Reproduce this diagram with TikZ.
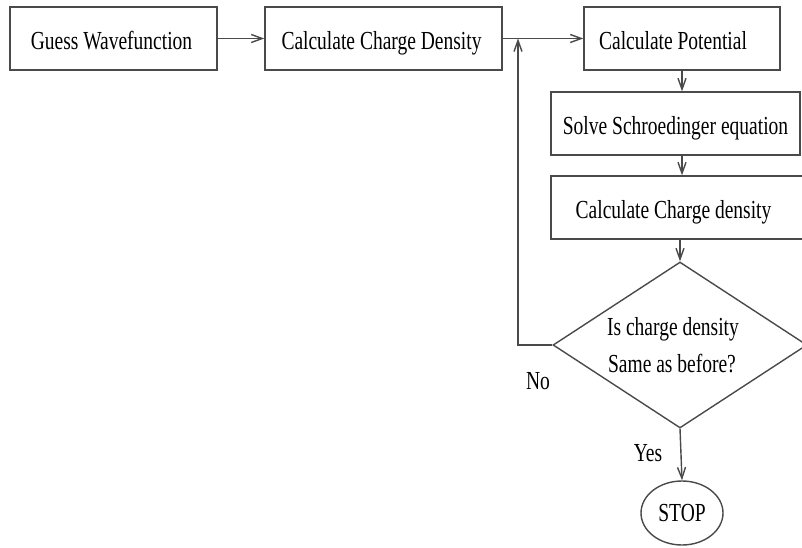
\documentclass[tikz,border=0pt]{standalone}
\usepackage{fontspec}
\setmainfont{Liberation Serif}[FakeStretch=0.75]
\usetikzlibrary{arrows.meta,shapes.geometric}
\definecolor{lc}{HTML}{4A4A4A}
\begin{document}
\begin{tikzpicture}[x=1pt,y=-1pt,
  every node/.style={font=\fontsize{26}{37}\selectfont, text=black},
  box/.style={draw=lc, line width=1.4pt, rectangle, minimum height=63pt, inner sep=0pt, text height=22pt, text depth=0pt},
  arr/.style={draw=lc, line width=1.4pt, -{Straight Barb[length=11pt,width=8pt]}},
  ln/.style={draw=lc, line width=1.4pt}
]
\useasboundingbox (0,0) rectangle (802,548);
\fill[white] (0,0) rectangle (802,548);

\node[box, minimum width=207pt] (b1) at (113.5,38.5) {Guess Wavefunction\hspace*{4pt}};
\node[box, minimum width=237pt] (b2) at (383.5,38.5) {Calculate Charge Density\hspace*{4pt}};
\node[box, minimum width=196pt] (b3) at (682,38.5) {Calculate Potential\hspace*{18pt}};
\node[box, minimum width=249pt] (b4) at (675.5,123.5) {Solve Schroedinger equation};
\node[box, minimum width=255pt] (b5) at (678.5,207.5) {Calculate Charge density\hspace*{10pt}};
\node[draw=lc, line width=1.4pt, diamond, aspect=1.54, minimum width=254pt, minimum height=166pt, inner sep=0pt, align=center] (d) at (680,345) {Is charge density\hspace*{14pt}\\Same as before?\hspace*{16pt}};
\node[draw=lc, line width=1.4pt, ellipse, minimum width=82pt, minimum height=64pt, inner sep=0pt] (stop) at (682,513) {STOP};
\node (no) at (538,381) {No};
\node (yes) at (648,453) {Yes};

\coordinate (j) at (518,38.5);

\draw[arr] (b1.east) -- (b2.west);
\draw[arr] (b2.east) -- (b3.west);
\draw[arr] (b3.south) -- (b3.south |- b4.north);
\draw[arr] (b3.south |- b4.south) -- (b3.south |- b5.north);
\draw[arr] (d.north |- b5.south) -- (d.north);
\draw[arr] (d.south) -- (stop.north);
\draw[arr] (d.west) -| (j);
\end{tikzpicture}
\end{document}
